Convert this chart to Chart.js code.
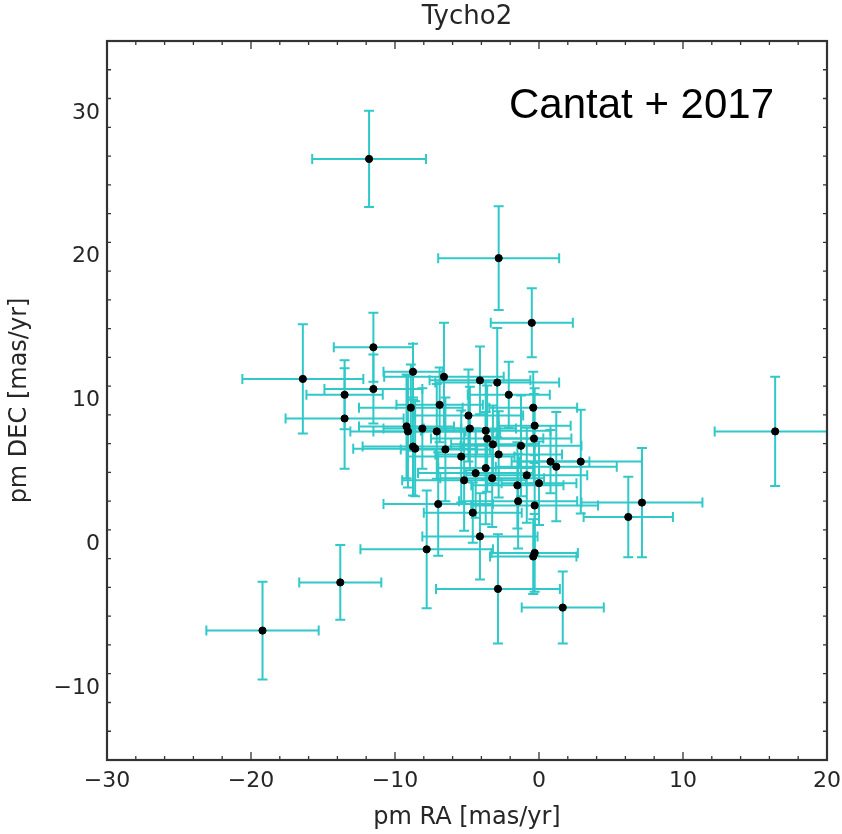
<!DOCTYPE html>
<html>
<head>
<meta charset="utf-8">
<script src="https://cdn.jsdelivr.net/npm/chart.js@4"></script>
<style>
  body { margin: 0; background: #fff; }
  #wrap { width: 842px; height: 834px; }
</style>
</head>
<body>
<div id="wrap"><canvas id="pmChart"></canvas></div>
<script>
// proper motions (mas/yr)
const pmRA = [-19.2, -13.8, -7.8, -16.4, -11.5, -11.5, -13.5, -13.5, -8.75, -6.6,
  -4.1, -2.9, -2.1, -8.9, -6.9, -0.4, -4.9, -9.2, -9.1, -8.1,
  -7.1, -4.8, -3.7, -0.3, -3.6, -0.35, -3.2, -1.25, -8.75, -8.6,
  -6.5, -2.8, -5.4, 0.8, 1.2, 2.9, -3.7, -4.4, -3.25, -0.85,
  -5.2, -1.5, 0.0, -7.0, -1.45, -0.3, -4.6, -4.1, -0.4, -0.3,
  -2.85, 1.65, 6.2, 7.15, 16.4, -2.8, -0.5, -11.8];
const pmDEC = [-6.0, -2.65, -0.35, 11.5, 13.7, 10.8, 10.4, 8.75, 12.0, 11.65,
  11.4, 11.25, 10.4, 9.5, 9.7, 9.5, 8.95, 8.2, 7.85, 8.05,
  7.85, 8.05, 7.9, 8.25, 7.35, 7.35, 6.95, 6.85, 6.8, 6.65,
  6.6, 6.25, 6.1, 5.75, 5.4, 5.75, 5.3, 4.95, 4.6, 4.8,
  4.45, 4.1, 4.25, 2.8, 3.0, 2.7, 2.2, 0.55, -0.85, -0.6,
  -3.1, -4.4, 1.9, 2.9, 7.85, 19.9, 15.4, 26.8];
const errRA = [3.9, 2.85, 4.6, 4.2, 2.75, 3.4, 2.65, 4.1, 2.05, 4.15,
  3.5, 4.3, 2.85, 3.6, 3.0, 3.05, 3.8, 3.3, 4.0, 2.7,
  4.4, 3.2, 4.5, 2.5, 3.9, 2.6, 2.9, 4.2, 3.5, 4.3,
  3.1, 4.4, 3.7, 2.7, 4.2, 4.25, 3.3, 4.0, 3.6, 4.2,
  4.3, 3.2, 2.6, 3.8, 4.1, 4.4, 3.4, 4.0, 3.0, 3.0,
  4.3, 2.85, 3.1, 4.2, 4.2, 4.2, 2.85, 3.95];
const errDEC = [3.4, 2.6, 4.1, 3.8, 2.4, 2.4, 2.4, 3.5, 1.95, 3.75,
  2.35, 3.8, 2.3, 3.0, 2.6, 2.5, 3.2, 3.6, 3.9, 2.8,
  3.3, 2.9, 3.4, 2.6, 3.7, 3.1, 2.7, 3.5, 3.4, 3.3,
  3.6, 3.0, 3.2, 2.2, 3.8, 3.6, 3.9, 3.1, 3.4, 3.3,
  3.5, 3.0, 2.9, 3.6, 3.3, 3.5, 2.1, 3.0, 2.6, 2.7,
  3.8, 2.5, 2.8, 3.8, 3.8, 3.6, 2.4, 3.35];

const xTicks = [-30, -20, -10, 0, 10, 20];
const yTicks = [-10, 0, 10, 20, 30];

const textColor = '#262626';
const barColor = '#30c8c8';
const fontFamily = 'DejaVu Sans';

function minusLabel(v) {
    return String(v).replace('-', '\u2212');
}

// --- error bars, drawn under the points ---
const errorBars = {
    id: 'errorBars',
    beforeDatasetsDraw(chart) {
        const { ctx, chartArea, scales } = chart;
        const xs = scales.x, ys = scales.y;
        const cap = 5;
        ctx.save();
        ctx.beginPath();
        ctx.rect(chartArea.left, chartArea.top, chartArea.right - chartArea.left, chartArea.bottom - chartArea.top);
        ctx.clip();
        ctx.strokeStyle = barColor;
        ctx.lineWidth = 2;
        pmRA.forEach((ra, i) => {
            const px = xs.getPixelForValue(ra);
            const py = ys.getPixelForValue(pmDEC[i]);
            const x0 = xs.getPixelForValue(ra - errRA[i]);
            const x1 = xs.getPixelForValue(ra + errRA[i]);
            const y0 = ys.getPixelForValue(pmDEC[i] - errDEC[i]);
            const y1 = ys.getPixelForValue(pmDEC[i] + errDEC[i]);
            ctx.beginPath();
            ctx.moveTo(x0, py); ctx.lineTo(x1, py);
            ctx.moveTo(x0, py - cap); ctx.lineTo(x0, py + cap);
            ctx.moveTo(x1, py - cap); ctx.lineTo(x1, py + cap);
            ctx.moveTo(px, y0); ctx.lineTo(px, y1);
            ctx.moveTo(px - cap, y0); ctx.lineTo(px + cap, y0);
            ctx.moveTo(px - cap, y1); ctx.lineTo(px + cap, y1);
            ctx.stroke();
        });
        ctx.restore();
    }
};

// --- matplotlib style box with inward ticks, plus the annotation ---
const frameBox = {
    id: 'frameBox',
    afterDraw(chart) {
        const { ctx, chartArea: a, scales } = chart;
        const xs = scales.x, ys = scales.y;
        ctx.save();
        ctx.strokeStyle = '#333';
        ctx.lineWidth = 1.3;
        ctx.beginPath();
        for (let v = xs.min; v <= xs.max; v += 2) {
            const p = xs.getPixelForValue(v);
            const len = xTicks.includes(v) ? 8 : 4;
            ctx.moveTo(p, a.bottom); ctx.lineTo(p, a.bottom - len);
            ctx.moveTo(p, a.top); ctx.lineTo(p, a.top + len);
        }
        for (let v = ys.min; v <= ys.max; v += 2) {
            const p = ys.getPixelForValue(v);
            const len = yTicks.includes(v) ? 8 : 4;
            ctx.moveTo(a.left, p); ctx.lineTo(a.left + len, p);
            ctx.moveTo(a.right, p); ctx.lineTo(a.right - len, p);
        }
        ctx.stroke();
        ctx.lineWidth = 2.2;
        ctx.strokeRect(a.left, a.top, a.right - a.left, a.bottom - a.top);

        ctx.fillStyle = '#000';
        ctx.font = '42px "Liberation Sans", Arial, sans-serif';
        ctx.textBaseline = 'alphabetic';
        ctx.textAlign = 'left';
        ctx.fillText('Cantat + 2017', 509, 118);
        ctx.restore();
    }
};

const points = pmRA.map((ra, i) => ({ x: ra, y: pmDEC[i] }));

new Chart(document.getElementById('pmChart'), {
    type: 'scatter',
    data: {
        datasets: [{
            data: points,
            pointRadius: 3.6,
            pointBackgroundColor: '#000',
            pointBorderColor: '#000',
            pointBorderWidth: 1
        }]
    },
    options: {
        responsive: true,
        maintainAspectRatio: false,
        animation: false,
        layout: { padding: { left: 0, right: 15, top: 0, bottom: 0 } },
        plugins: {
            legend: { display: false },
            tooltip: { enabled: false }
        },
        scales: {
            x: {
                type: 'linear',
                min: -30,
                max: 20,
                afterBuildTicks: s => { s.ticks = xTicks.map(v => ({ value: v })); },
                afterFit: s => { s.height = 74; s.paddingLeft = 0; s.paddingRight = 0; },
                grid: { display: false, drawTicks: false },
                border: { display: false },
                ticks: {
                    color: textColor,
                    padding: 8,
                    maxRotation: 0,
                    font: { family: fontFamily, size: 22 },
                    callback: minusLabel
                },
                title: {
                    display: true,
                    text: 'pm RA [mas/yr]',
                    color: textColor,
                    font: { family: fontFamily, size: 24 },
                    padding: { top: 0, bottom: 2 }
                }
            },
            // top axis only carries the plot title, centred over the plot box
            top: {
                type: 'linear',
                position: 'top',
                min: -30,
                max: 20,
                afterFit: s => { s.height = 41; s.paddingLeft = 0; s.paddingRight = 0; },
                grid: { display: false, drawTicks: false },
                border: { display: false },
                ticks: { display: false },
                title: {
                    display: true,
                    text: 'Tycho2',
                    color: textColor,
                    font: { family: fontFamily, size: 26 },
                    padding: { top: 2, bottom: 0 }
                }
            },
            y: {
                type: 'linear',
                min: -15,
                max: 35,
                afterBuildTicks: s => { s.ticks = yTicks.map(v => ({ value: v })); },
                afterFit: s => { s.width = 107; s.paddingTop = 0; s.paddingBottom = 0; },
                grid: { display: false, drawTicks: false },
                border: { display: false },
                ticks: {
                    color: textColor,
                    padding: 7,
                    font: { family: fontFamily, size: 22 },
                    callback: minusLabel
                },
                title: {
                    display: true,
                    text: 'pm DEC [mas/yr]',
                    color: textColor,
                    font: { family: fontFamily, size: 24 },
                    padding: { top: 5, bottom: 0 }
                }
            }
        }
    },
    plugins: [errorBars, frameBox]
});
</script>
</body>
</html>
